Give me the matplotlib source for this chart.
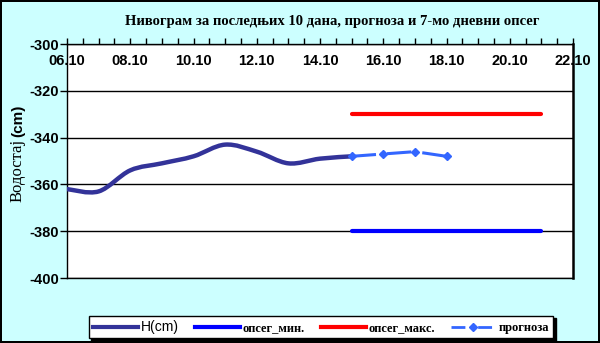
import matplotlib
matplotlib.use("Agg")
import matplotlib.pyplot as plt
from matplotlib.path import Path
from matplotlib.patches import PathPatch
from matplotlib.lines import Line2D

plt.rcParams["axes.unicode_minus"] = False

# data (day of October)
h_days = [6, 7, 8, 9, 10, 11, 12, 13, 14, 15]
h_vals = [-362, -363, -354, -351, -348, -343, -346, -351, -349, -348]

fc_days = [15, 16, 17, 18]
fc_vals = [-348, -347, -346, -348]

band_days = [15, 21]
band_min = [-380, -380]
band_max = [-330, -330]

tick_days = [6, 8, 10, 12, 14, 16, 18, 20, 22]
tick_labels = ["06.10", "08.10", "10.10", "12.10", "14.10", "16.10", "18.10", "20.10", "22.10"]

title = "Нивограм за последњих 10 дана, прогноза и 7-мо дневни опсег"
bg = "#CCFFFF"


def smooth_path(xs, ys):
	# excel style smoothed line: cubic bezier through the points
	verts = [(xs[0], ys[0])]
	codes = [Path.MOVETO]
	n = len(xs)
	for i in range(n - 1):
		i0 = max(i - 1, 0)
		i3 = min(i + 2, n - 1)
		c1 = (xs[i] + (xs[i + 1] - xs[i0]) / 6, ys[i] + (ys[i + 1] - ys[i0]) / 6)
		c2 = (xs[i + 1] - (xs[i3] - xs[i]) / 6, ys[i + 1] - (ys[i3] - ys[i]) / 6)
		verts += [c1, c2, (xs[i + 1], ys[i + 1])]
		codes += [Path.CURVE4] * 3
	return Path(verts, codes)


fig = plt.figure(figsize=(6, 3.43), dpi=100)
fig.patch.set_facecolor(bg)
fig.patch.set_edgecolor("black")
fig.patch.set_linewidth(1.5)

ax = fig.add_axes([67 / 600, 1 - 278 / 343, (573 - 67) / 600, (278 - 44) / 343])
ax.set_facecolor("white")

h_col = "#333399"
fc_col = "#3366FF"

patch = PathPatch(smooth_path(h_days, h_vals), fill=False, edgecolor=h_col,
				  linewidth=3.2, capstyle="round", joinstyle="round", zorder=4)
ax.add_patch(patch)
ax.plot(band_days, band_min, color="#0000FF", linewidth=3, solid_capstyle="round", zorder=3)
ax.plot(band_days, band_max, color="#FF0000", linewidth=3, solid_capstyle="round", zorder=3)
ax.plot(fc_days, fc_vals, color=fc_col, linewidth=2.2, linestyle=(0, (8, 1.5, 0.6, 1.5)),
		marker="D", markersize=4.5, zorder=5)

ax.set_xlim(6, 22)
ax.set_ylim(-400, -300)
ax.set_yticks([-400, -380, -360, -340, -320, -300])
ax.yaxis.grid(True, color="black", linewidth=1)
ax.set_axisbelow(True)

ax.set_xticks(tick_days)
ax.set_xticklabels(tick_labels)
ax.set_xticks([6 + 0.5 * k for k in range(33)], minor=True)
ax.xaxis.set_ticks_position("top")
ax.tick_params(axis="x", which="both", direction="out", length=4, width=1, color="black",
			   top=True, bottom=False, labeltop=True, labelbottom=False, pad=-21)
ax.tick_params(axis="y", direction="out", length=5, width=1, pad=1)

for lbl in ax.get_xticklabels() + ax.get_yticklabels():
	lbl.set_fontfamily("Liberation Sans")
	lbl.set_fontweight("bold")
	lbl.set_fontsize(10.5)

for s in ax.spines.values():
	s.set_color("black")
	s.set_linewidth(1)
ax.spines["right"].set_linewidth(1.8)

fig.text(332 / 600, 1 - 22 / 343, title, ha="center", va="center",
		 fontfamily="Liberation Serif", fontweight="bold", fontsize=10.5)

# y label: serif word + bold sans unit
t1 = fig.text(18 / 600, 1 - 202 / 343, "Водостај", rotation=90, ha="center", va="bottom",
			  fontfamily="Liberation Serif", fontsize=12)
fig.canvas.draw()
bb = t1.get_window_extent()
fig.text(18 / 600, (bb.y1 + 2) / fig.bbox.height, "(cm)", rotation=90, ha="center", va="bottom",
		 fontfamily="Liberation Sans", fontweight="bold", fontsize=11)

handles = [
	Line2D([], [], color=h_col, linewidth=3),
	Line2D([], [], color="#0000FF", linewidth=3),
	Line2D([], [], color="#FF0000", linewidth=3),
	Line2D([], [], color=fc_col, linewidth=2, linestyle=(0, (5, 2, 0.6, 2)), marker="D", markersize=4),
]
names = ["H(cm)", "опсег_мин.", "опсег_макс.", "прогноза"]
leg = fig.legend(handles, names, loc="center", bbox_to_anchor=(321 / 600, 1 - 327 / 343),
				 ncol=4, fontsize=9, frameon=True, fancybox=False, handlelength=3.6,
				 handletextpad=0.2, columnspacing=1.3, borderpad=0.35,
				 shadow={"color": "black", "alpha": 1})
leg.get_frame().set_edgecolor("black")
leg.get_frame().set_linewidth(1)
for i, t in enumerate(leg.get_texts()):
	if i == 0:
		t.set_fontfamily("Liberation Sans")
		t.set_fontsize(10)
	else:
		t.set_fontfamily("Liberation Serif")
		t.set_fontweight("bold")

fig.savefig("out.png", dpi=100, facecolor=fig.get_facecolor(), edgecolor=fig.get_edgecolor())
